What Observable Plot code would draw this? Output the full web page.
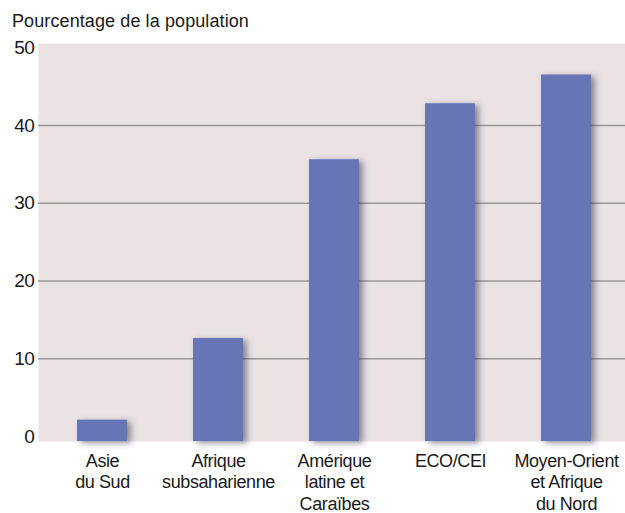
<!DOCTYPE html>
<html><head><meta charset="utf-8">
<script src="https://cdn.jsdelivr.net/npm/d3@7"></script>
<script src="https://cdn.jsdelivr.net/npm/@observablehq/plot@0.6"></script>
<style>
body{margin:0;background:#fff;font-family:"Liberation Sans",Arial,sans-serif;}
#title{height:30px;box-sizing:border-box;padding:12px 0 0 12px;font-size:18px;line-height:18px;color:#1a1a1a;letter-spacing:0.1px;white-space:nowrap;overflow:visible}
#chart svg text{letter-spacing:-0.4px}
</style></head><body>
<div id="title">Pourcentage de la population</div>
<div id="chart"></div>
<script>
const regions = ["Asie\ndu Sud", "Afrique\nsubsaharienne", "Amérique\nlatine et\nCaraïbes", "ECO/CEI", "Moyen-Orient\net Afrique\ndu Nord"];
const values = [2.1, 12.6, 35.6, 42.8, 46.5];
const yTicks = [0, 10, 20, 30, 40, 50];
const gridTicks = [10, 20, 30, 40];
const yMin = -0.64, yMax = 50.55;

const data = regions.map((r, i) => ({region: r, value: values[i]}));

const chart = Plot.plot({
  width: 625, height: 483,
  marginTop: 13, marginBottom: 72, marginLeft: 38, marginRight: 0,
  style: {fontFamily: "'Liberation Sans', Arial, sans-serif", fontSize: "16px", color: "#1a1a1a", background: "transparent"},
  x: {domain: regions, paddingInner: 0.57, paddingOuter: 0.315, align: 0.53, label: null},
  y: {domain: [yMin, yMax], label: null},
  marks: [
    Plot.frame({fill: "#ebe3e3", stroke: null}),
    Plot.ruleY(gridTicks, {stroke: "#9d9696", strokeWidth: 1.5}),
    Plot.barY(data, {x: "region", y1: yMin, y2: "value", fill: "#6674b6"}),
    Plot.axisY(yTicks, {tickSize: 0, tickPadding: 4, fontSize: 19, label: null}),
    Plot.axisX({tickSize: 0, tickPadding: 10, fontSize: 18, lineHeight: 1.2, label: null})
  ]
});

const svg = d3.select(chart);
const defs = svg.insert("defs", ":first-child");
const f = defs.append("filter").attr("id", "shadow").attr("x", "-20%").attr("y", "-20%").attr("width", "150%").attr("height", "150%");
f.append("feDropShadow").attr("dx", 4).attr("dy", 2).attr("stdDeviation", 3).attr("flood-color", "#3a3550").attr("flood-opacity", 0.55);
svg.selectAll('g[aria-label="bar"]').attr("filter", "url(#shadow)");

document.getElementById("chart").appendChild(chart);
</script>
</body></html>
